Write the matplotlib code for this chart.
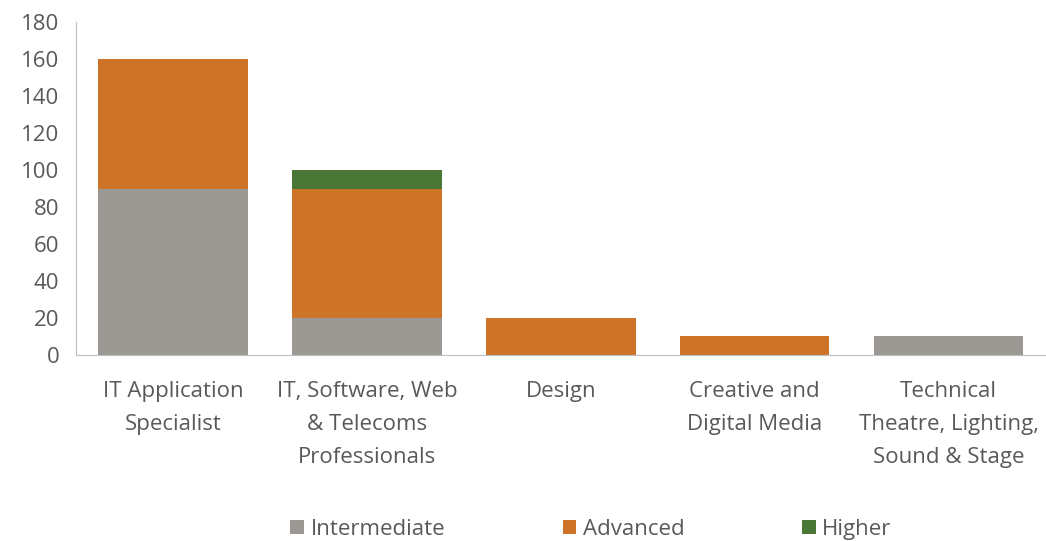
import numpy as np
import matplotlib.pyplot as plt

categories = ['IT Application\nSpecialist', 'IT, Software, Web\n& Telecoms\nProfessionals',
              'Design', 'Creative and\nDigital Media', 'Technical\nTheatre, Lighting,\nSound & Stage']
intermediate = [90, 20, 0, 0, 10]
advanced = [70, 70, 20, 10, 0]
higher = [0, 10, 0, 0, 0]

plt.rcParams['font.family'] = ['Open Sans', 'DejaVu Sans']
txt = '#595959'

fig = plt.figure(figsize=(10.46, 5.41), dpi=100)
ax = fig.add_axes([0.0727, 0.344, 0.927, 0.615])

x = np.arange(len(categories))
w = 0.77
b1 = np.array(intermediate)
b2 = b1 + np.array(advanced)
ax.bar(x, intermediate, w, color='#9C9894', label='Intermediate')
ax.bar(x, advanced, w, bottom=b1, color='#CD7429', label='Advanced')
ax.bar(x, higher, w, bottom=b2, color='#4A7636', label='Higher')

ax.set_xlim(-0.5, 4.5)
ax.set_ylim(0, 180)
ax.set_yticks(range(0, 181, 20))
ax.set_xticks(x)
ax.set_xticklabels(categories, fontsize=16, color=txt, linespacing=1.75)
ax.tick_params(axis='y', labelsize=16, labelcolor=txt, length=0, pad=12)
ax.tick_params(axis='x', length=0, pad=19)
for s in ['top', 'right']:
    ax.spines[s].set_visible(False)
for s in ['left', 'bottom']:
    ax.spines[s].set_color('#BFBFBF')

fig.legend(loc='lower center', bbox_to_anchor=(0.565, -0.035), ncol=3, frameon=False,
           fontsize=16, labelcolor=txt, handlelength=0.6, handleheight=0.6,
           handletextpad=0.3, columnspacing=5.3)

fig.savefig('out.png', dpi=100)
